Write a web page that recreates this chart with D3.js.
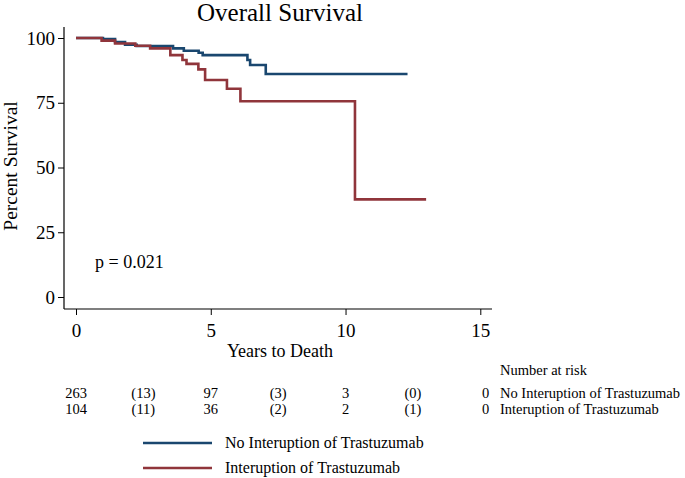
<!DOCTYPE html>
<html><head><meta charset="utf-8">
<script src="https://cdn.jsdelivr.net/npm/d3@7"></script>
<style>body{margin:0;background:#fff;} svg{display:block;} svg text{font-family:"Liberation Serif","Times New Roman",serif !important;fill:#000;}</style>
</head><body><svg id="c" width="685" height="478"></svg>
<script>
const seriesNames = ["No Interuption of Trastuzumab", "Interuption of Trastuzumab"];
const seriesColors = ["#1a476f", "#90353b"];
const noIntTimes = [0, 1.0, 1.45, 1.82, 2.25, 3.6, 4.0, 4.55, 4.7, 6.36, 6.46, 7.04, 12.3];
const noIntSurv  = [100, 99.6, 98.4, 97.4, 96.9, 96.0, 95.1, 94.3, 93.4, 91.5, 89.6, 86.1, 86.1];
const intTimes = [0, 0.95, 1.45, 2.2, 2.75, 3.5, 3.95, 4.1, 4.54, 4.79, 5.6, 6.1, 10.35, 12.99];
const intSurv  = [100, 99.0, 97.9, 97.0, 96.0, 93.4, 91.5, 90.0, 87.9, 83.8, 80.4, 75.6, 37.7, 37.7];
const xTicks = [0, 5, 10, 15];
const yTicks = [0, 25, 50, 75, 100];
const riskTimes = [0, 2.5, 5, 7.5, 10, 12.5, 15];
const riskNoInt = ["263", "(13)", "97", "(3)", "3", "(0)", "0"];
const riskInt   = ["104", "(11)", "36", "(2)", "2", "(1)", "0"];

const svg = d3.select("#c");
const x = d3.scaleLinear().domain([0, 15]).range([76, 480.3]);
const y = d3.scaleLinear().domain([0, 100]).range([297, 38]);

svg.append("line").attr("x1",64).attr("x2",64).attr("y1",27).attr("y2",309).attr("stroke","#000").attr("stroke-width",1.2);
svg.append("line").attr("x1",64).attr("x2",492).attr("y1",309).attr("y2",309).attr("stroke","#000").attr("stroke-width",1.2);

const yAxis = d3.axisLeft(y).tickValues(yTicks).tickSize(6).tickPadding(3);
const gy = svg.append("g").attr("transform","translate(64,0)").call(yAxis);
gy.select(".domain").remove();
gy.selectAll("text").attr("font-size",19);

const xAxis = d3.axisBottom(x).tickValues(xTicks).tickSize(6).tickPadding(9);
const gx = svg.append("g").attr("transform","translate(0,309)").call(xAxis);
gx.select(".domain").remove();
gx.selectAll("text").attr("font-size",19);

const line = d3.line().x(d=>x(d[0])).y(d=>y(d[1])).curve(d3.curveStepAfter);
const data = [d3.zip(noIntTimes, noIntSurv), d3.zip(intTimes, intSurv)];
data.forEach((d,i)=>{
  svg.append("path").datum(d).attr("d",line).attr("fill","none")
    .attr("stroke",seriesColors[i]).attr("stroke-width",2.6);
});

svg.append("text").attr("x",280).attr("y",21).attr("text-anchor","middle").attr("font-size",25).text("Overall Survival");
svg.append("text").attr("transform","translate(17,166) rotate(-90)").attr("text-anchor","middle").attr("font-size",19.5).text("Percent Survival");
svg.append("text").attr("x",280).attr("y",357).attr("text-anchor","middle").attr("font-size",18).text("Years to Death");
svg.append("text").attr("x",95).attr("y",268).attr("font-size",18).text("p = 0.021");

svg.append("text").attr("x",500).attr("y",375).attr("font-size",14.5).text("Number at risk");
[riskNoInt, riskInt].forEach((row,ri)=>{
  const yy = 398 + ri*16;
  row.forEach((v,j)=>{
    svg.append("text").attr("x",x(riskTimes[j])).attr("y",yy).attr("text-anchor", j===6 ? "end" : "middle")
      .attr("dx", j===6 ? 9 : 0).attr("font-size",14.5).text(v);
  });
  svg.append("text").attr("x",500).attr("y",yy).attr("font-size",14.5).text(seriesNames[ri]);
});

seriesNames.forEach((n,i)=>{
  const ly = 443 + i*25;
  svg.append("line").attr("x1",143).attr("x2",212).attr("y1",ly).attr("y2",ly).attr("stroke",seriesColors[i]).attr("stroke-width",2.4);
  svg.append("text").attr("x",225).attr("y",ly+5).attr("font-size",16).text(n);
});
</script></body></html>
